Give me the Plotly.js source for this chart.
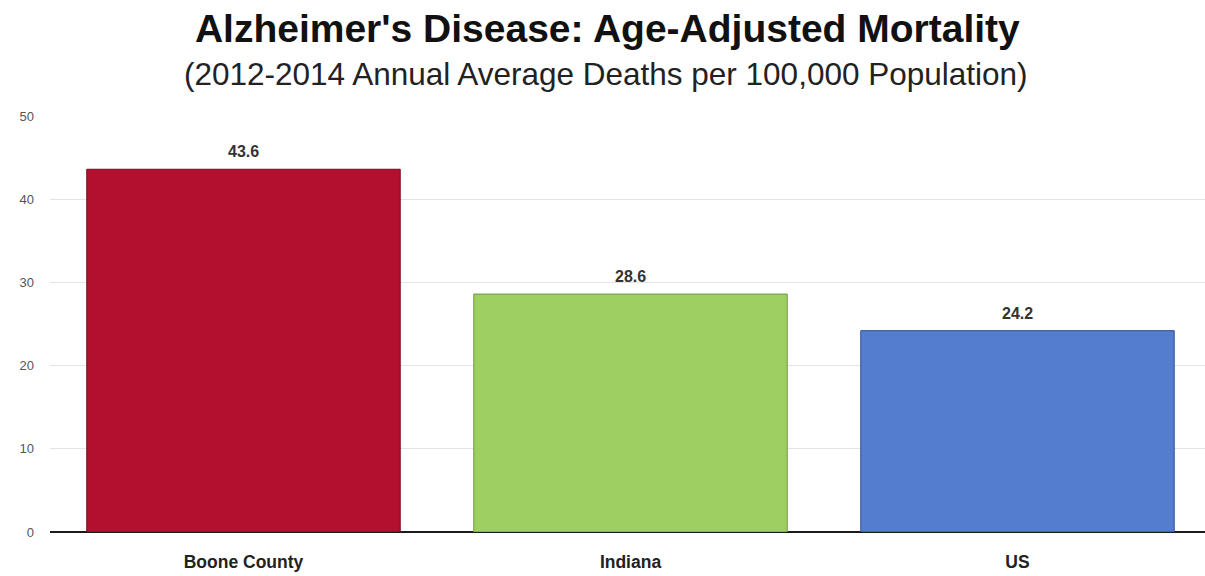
<!DOCTYPE html>
<html>
<head>
<meta charset="utf-8">
<script src="https://cdn.plot.ly/plotly-3.0.1.min.js"></script>
<style>
  html, body { margin: 0; padding: 0; background: #ffffff; }
  #chart { width: 1205px; height: 576px; }
</style>
</head>
<body>
<div id="chart"></div>
<script>
// Age-adjusted Alzheimer's mortality, 2012-2014 annual average per 100,000
const regions = ["Boone County", "Indiana", "US"];
const deathRates = [43.6, 28.6, 24.2];
const barColors = ["#B3102F", "#9DCF62", "#547DCF"];
const barEdges = ["#7a0a1f", "#6f9a3c", "#2f4f8f"];
const yTicks = [0, 10, 20, 30, 40, 50];

const sans = "Liberation Sans, Arial, sans-serif";

const bars = {
  type: "bar",
  x: regions,
  y: deathRates,
  marker: { color: barColors, line: { color: barEdges, width: 1 } },
  hoverinfo: "x+y",
  cliponaxis: false
};

// value labels sitting just above each bar
const valueLabels = regions.map((r, i) => ({
  x: r, y: deathRates[i], xref: "x", yref: "y",
  text: "<b>" + deathRates[i].toFixed(1) + "</b>",
  showarrow: false, yanchor: "bottom", yshift: 7,
  font: { family: sans, size: 16, color: "#333333" }
}));

const layout = {
  width: 1205,
  height: 576,
  margin: { l: 50, r: 0, t: 116, b: 44 },
  paper_bgcolor: "#ffffff",
  plot_bgcolor: "#ffffff",
  showlegend: false,
  bargap: 0.19,
  title: {
    text: "<b>Alzheimer's Disease: Age-Adjusted Mortality</b>",
    x: 0.504, xanchor: "center",
    y: 0.951, yanchor: "middle",
    font: { family: sans, size: 39, color: "#111111" }
  },
  xaxis: {
    type: "category",
    range: [-0.5, 2.4845],
    showgrid: false,
    zeroline: false,
    showline: false,
    ticks: "",
    ticklabelstandoff: 17,
    tickfont: { family: sans, size: 17.5, color: "#222222" },
    tickvals: regions,
    ticktext: regions.map(r => "<b>" + r + "</b>")
  },
  yaxis: {
    range: [0, 50],
    tickvals: yTicks,
    ticks: "",
    ticklabelstandoff: 15,
    showgrid: true,
    gridcolor: "#e4e4e4",
    gridwidth: 1,
    zeroline: true,
    zerolinecolor: "#1a1a1a",
    zerolinewidth: 2,
    showline: false,
    tickfont: { family: sans, size: 13, color: "#555555" }
  },
  annotations: valueLabels.concat([{
    text: "(2012-2014 Annual Average Deaths per 100,000 Population)",
    xref: "paper", yref: "paper",
    x: 0.481, y: 1, yshift: 42,
    xanchor: "center", yanchor: "middle",
    showarrow: false,
    font: { family: sans, size: 31.5, color: "#222222" }
  }])
};

Plotly.newPlot("chart", [bars], layout, { displayModeBar: false, responsive: false });
</script>
</body>
</html>
